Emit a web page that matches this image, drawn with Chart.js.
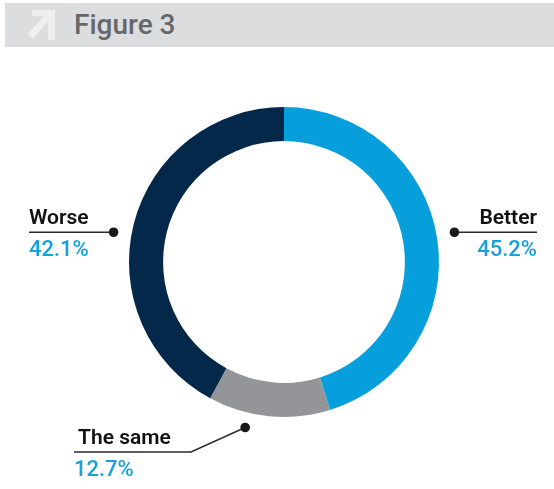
<!DOCTYPE html>
<html>
<head>
<meta charset="utf-8">
<script src="https://cdn.jsdelivr.net/npm/chart.js@4"></script>
<style>
  html, body { margin: 0; padding: 0; background: #ffffff; }
  body { width: 554px; height: 489px; position: relative; overflow: hidden; font-family: Roboto, "Noto Sans", sans-serif; }
  #hdr { position: absolute; left: 5px; top: 3px; width: 549px; height: 44px; background: #dcdddf; }
  #hdr svg { position: absolute; left: 22px; top: 7px; }
  #hdr span { position: absolute; left: 69px; top: 5px; font-size: 28px; font-weight: 500; color: #666769; letter-spacing: 0px; }
  #wrap { position: absolute; left: 0; top: 0; width: 554px; height: 489px; }
</style>
</head>
<body>
<div id="hdr">
  <svg width="30" height="32" viewBox="0 0 30 32">
    <polygon points="5,0 28,0 28,30 21,30 21,11 6,29 1,24 17,6 5,6" fill="#eeeff0"/>
  </svg>
  <span>Figure 3</span>
</div>
<div id="wrap"><canvas id="c" width="554" height="489"></canvas></div>
<script>
const categories = ["Better", "The same", "Worse"];
const values = [45.2, 12.7, 42.1];
const valueLabels = ["45.2%", "12.7%", "42.1%"];
const colors = ["#069fdb", "#939598", "#03284a"];

// label layout (styling only): angle of the dot (deg, clockwise from top), side, and elbow
const labelLayout = [
  { angle: 80.1, r: 173, side: "right", endX: 537, textX: 537, elbow: null },
  { angle: 193.2, r: 170, side: "left", endX: 74, textX: 78, elbow: { x: 191, y: 452 } },
  { angle: 279.9, r: 173, side: "left", endX: 29, textX: 29, elbow: null }
];

const labelPlugin = {
  id: "leaderLabels",
  afterDatasetsDraw(chart) {
    const ctx = chart.ctx;
    const meta = chart.getDatasetMeta(0);
    meta.data.forEach((arc, i) => {
      const L = labelLayout[i];
      const a = (L.angle - 90) * Math.PI / 180;
      const dx = arc.x + Math.cos(a) * L.r;
      const dy = arc.y + Math.sin(a) * L.r;
      ctx.save();
      ctx.strokeStyle = "#2b2b2b";
      ctx.lineWidth = 1.5;
      ctx.beginPath();
      ctx.moveTo(dx, dy);
      let lineY = dy;
      if (L.elbow) {
        ctx.lineTo(L.elbow.x, L.elbow.y);
        lineY = L.elbow.y;
        ctx.lineTo(L.endX, lineY);
      } else {
        ctx.lineTo(L.endX, lineY);
      }
      ctx.stroke();
      ctx.fillStyle = "#1a1a1a";
      ctx.beginPath();
      ctx.arc(dx, dy, 4.8, 0, Math.PI * 2);
      ctx.fill();
      ctx.textAlign = L.side === "right" ? "right" : "left";
      ctx.textBaseline = "alphabetic";
      ctx.font = "600 21px Roboto";
      ctx.fillStyle = "#111111";
      ctx.fillText(categories[i], L.textX, lineY - 8);
      ctx.font = "500 22px Roboto";
      ctx.fillStyle = "#16a0dc";
      ctx.fillText(valueLabels[i], L.endX, lineY + 24);
      ctx.restore();
    });
  }
};

new Chart(document.getElementById("c"), {
  type: "doughnut",
  data: {
    labels: categories,
    datasets: [{
      data: values,
      backgroundColor: colors,
      borderWidth: 0,
      hoverOffset: 0
    }]
  },
  options: {
    responsive: false,
    animation: false,
    cutout: "78%",
    layout: { padding: { left: 129, top: 107, right: 115, bottom: 72 } },
    plugins: { legend: { display: false }, tooltip: { enabled: false } },
    events: []
  },
  plugins: [labelPlugin]
});
</script>
</body>
</html>
